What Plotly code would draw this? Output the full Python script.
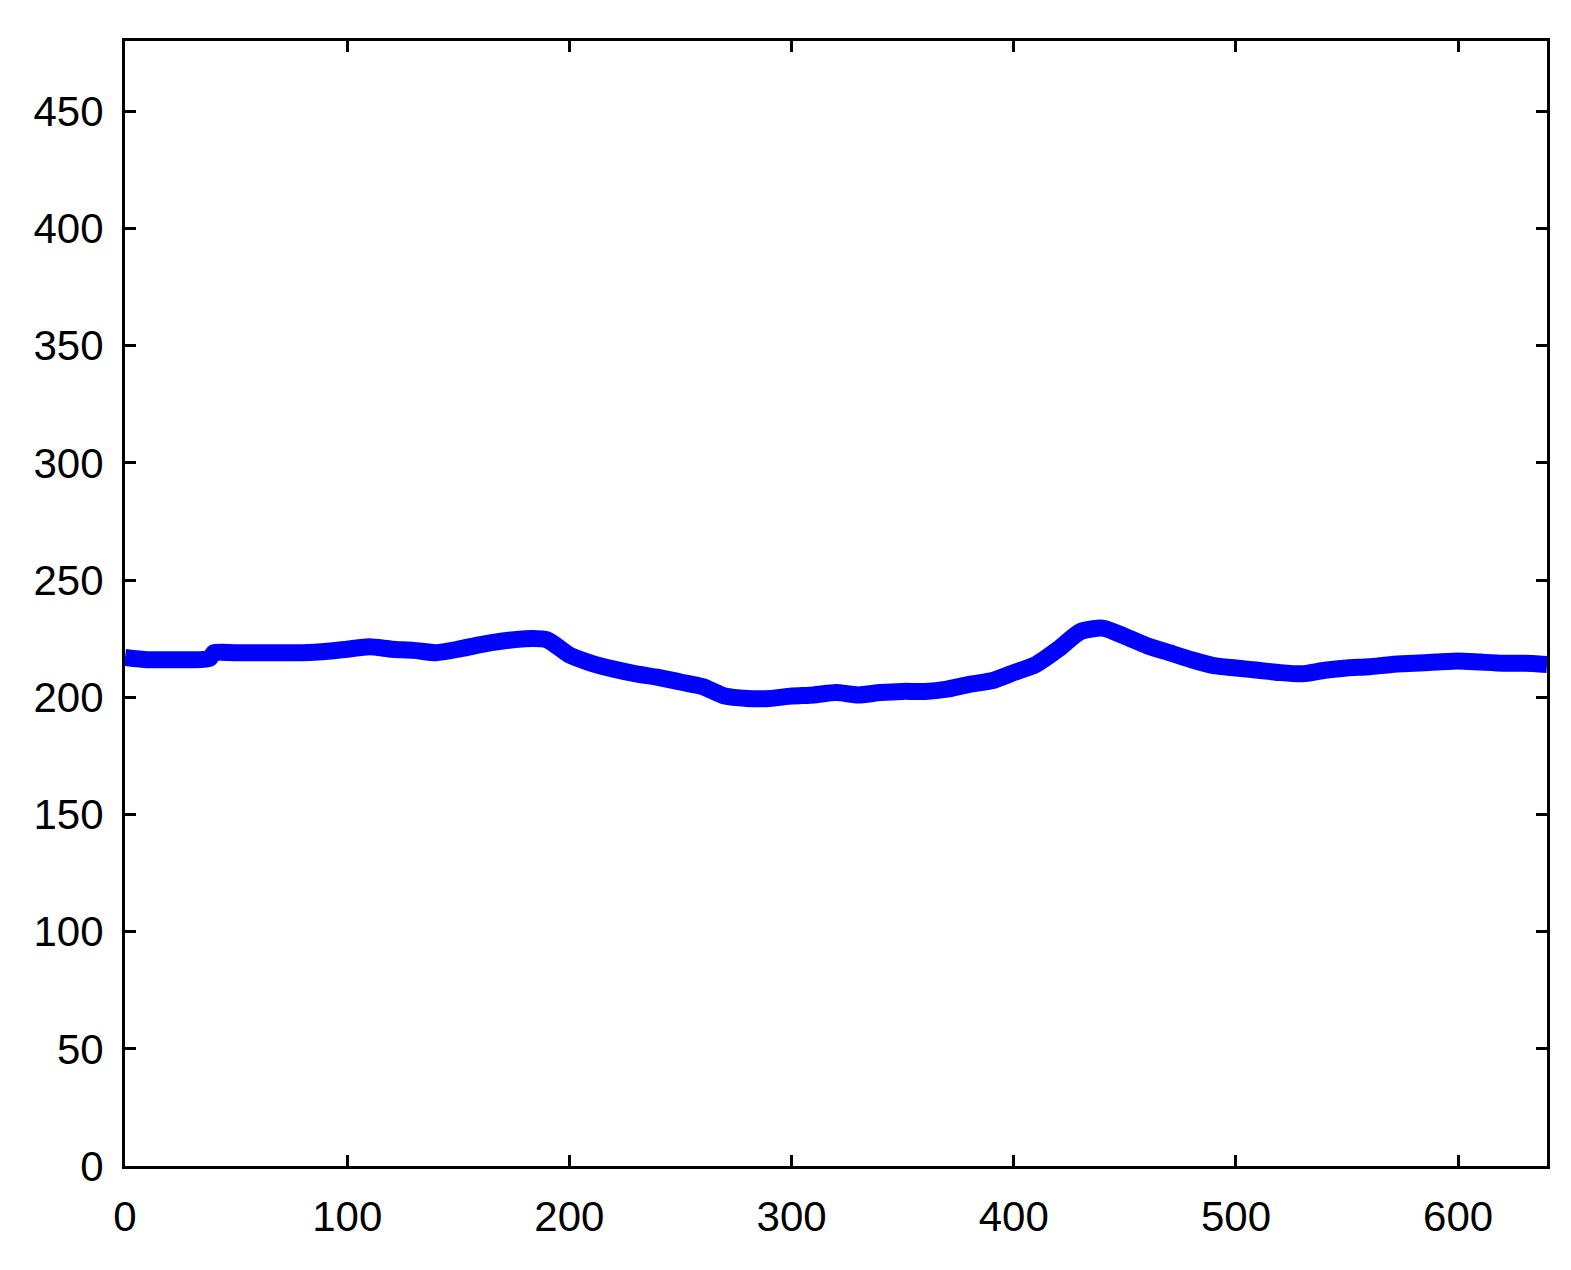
import plotly.graph_objects as go

x_vals = [0, 10, 20, 30, 38, 40, 50, 60, 70, 80, 90, 100, 110, 120, 130, 140, 150,
          160, 170, 180, 190, 200, 210, 220, 230, 240, 250, 260, 270, 280, 290, 300,
          310, 320, 330, 340, 350, 360, 370, 380, 390, 400, 410, 420, 430, 440, 450,
          460, 470, 480, 490, 500, 510, 520, 530, 540, 550, 560, 570, 580, 590, 600,
          610, 620, 630, 640]
y_vals = [217, 216, 216, 216, 216.5, 219, 219, 219, 219, 219, 219.5, 220.5, 221.5,
          220.5, 220, 219, 220.5, 222.5, 224, 225, 224.5, 218, 214.5, 212, 210, 208.5,
          206.5, 204.5, 200.5, 199.5, 199.5, 200.5, 201, 202, 201, 202, 202.5, 202.5,
          203.5, 205.5, 207, 210.5, 214, 220.5, 228, 229.5, 226, 222, 219, 216, 213.5,
          212.5, 211.5, 210.5, 210, 211.5, 212.5, 213, 214, 214.5, 215, 215.5, 215,
          214.5, 214.5, 214]

x_ticks = [0, 100, 200, 300, 400, 500, 600]
y_ticks = [0, 50, 100, 150, 200, 250, 300, 350, 400, 450]

fig = go.Figure()
fig.add_trace(go.Scatter(
    x=x_vals, y=y_vals, mode="lines",
    line=dict(color="#0000FF", width=17, shape="spline", smoothing=0.6),
    cliponaxis=False, showlegend=False,
))

axis_common = dict(
    showline=True, linecolor="black", linewidth=3, mirror="ticks",
    ticks="inside", ticklen=11, tickwidth=3, tickcolor="black",
    showgrid=False, zeroline=False,
    tickfont=dict(family="Liberation Sans, Arial, sans-serif", size=42, color="black"),
)

fig.update_layout(
    width=1571, height=1270,
    margin=dict(l=117, r=32, t=33, b=112),
    paper_bgcolor="white", plot_bgcolor="white",
    xaxis=dict(range=[0, 640], tickvals=x_ticks, ticklabelstandoff=12, **axis_common),
    yaxis=dict(range=[0, 480], tickvals=y_ticks, ticklabelstandoff=10, **axis_common),
)

fig.write_html("out.html")
